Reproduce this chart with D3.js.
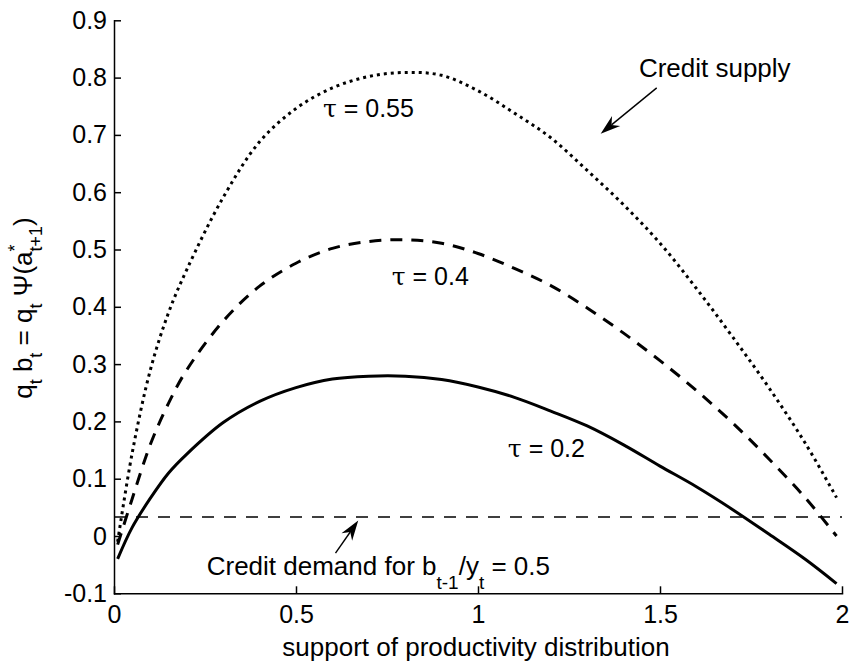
<!DOCTYPE html>
<html>
<head>
<meta charset="utf-8">
<script src="https://cdn.jsdelivr.net/npm/d3@7"></script>
<style>
  body { margin: 0; background: #fff; }
  text { font-family: "Liberation Sans", Arial, sans-serif; fill: #000; }
  .axis path, .axis line { stroke: #000; stroke-width: 1.5; }
  .axis text { font-size: 25px; font-family: "Liberation Sans", Arial, sans-serif; }
</style>
</head>
<body>
<div id="chart"></div>
<script>
// support grid (x) and credit supply for each tau
const xs      = [0.01, 0.05, 0.1, 0.15, 0.2, 0.3, 0.4, 0.5, 0.6, 0.7, 0.8, 0.9, 1.0, 1.1, 1.2, 1.3, 1.4, 1.5, 1.6, 1.7, 1.8, 1.9, 1.985];
const tau02   = [-0.04, 0.015, 0.066, 0.110, 0.143, 0.198, 0.235, 0.259, 0.274, 0.279, 0.279, 0.273, 0.260, 0.242, 0.218, 0.192, 0.159, 0.122, 0.086, 0.046, 0.003, -0.041, -0.083];
const tau04   = [-0.015, 0.065, 0.160, 0.232, 0.290, 0.375, 0.436, 0.476, 0.502, 0.514, 0.517, 0.511, 0.493, 0.467, 0.437, 0.398, 0.354, 0.306, 0.254, 0.197, 0.134, 0.066, 0.0];
const tau055  = [-0.01, 0.145, 0.290, 0.390, 0.465, 0.591, 0.688, 0.746, 0.782, 0.802, 0.809, 0.804, 0.777, 0.738, 0.695, 0.638, 0.578, 0.511, 0.432, 0.347, 0.258, 0.161, 0.067];
const demandLevel = 0.033;   // credit demand for b_{t-1}/y_t = 0.5
const demandX = [0, 2];

const xTicks = [0, 0.5, 1, 1.5, 2];
const yTicks = [-0.1, 0, 0.1, 0.2, 0.3, 0.4, 0.5, 0.6, 0.7, 0.8, 0.9];

var width = 850, height = 661;

const svg = d3.select("#chart").append("svg")
  .attr("width", width)
  .attr("height", height);

const x = d3.scaleLinear().domain([0, 2]).range([114, 842]);
const y = d3.scaleLinear().domain([-0.1, 0.9]).range([593.3, 20.3]);

const fmt = d => (Math.round(d * 10) / 10).toString();

svg.append("g")
  .attr("class", "axis")
  .attr("transform", "translate(0," + y(-0.1) + ")")
  .call(d3.axisBottom(x).tickValues(xTicks).tickFormat(fmt)
    .tickSizeInner(-7).tickSizeOuter(0).tickPadding(12));

svg.append("g")
  .attr("class", "axis")
  .attr("transform", "translate(" + x(0) + ",0)")
  .call(d3.axisLeft(y).tickValues(yTicks).tickFormat(fmt)
    .tickSizeInner(-7).tickSizeOuter(0).tickPadding(7));

svg.selectAll(".axis .domain").attr("stroke-linecap", "square");

// credit supply curves
const line = d3.line()
  .x(d => x(d[0]))
  .y(d => y(d[1]))
  .curve(d3.curveCatmullRom.alpha(0.5));

const series = [
  { vals: tau02,  dash: null },
  { vals: tau04,  dash: "12,9" },
  { vals: tau055, dash: "3,4" }
];

svg.append("g").selectAll("path")
  .data(series)
  .join("path")
    .attr("d", s => line(xs.map((v, i) => [v, s.vals[i]])))
    .attr("fill", "none")
    .attr("stroke", "#000")
    .attr("stroke-width", 3)
    .attr("stroke-dasharray", s => s.dash);

// credit demand
svg.append("path")
  .attr("d", d3.line().x(d => x(d)).y(() => y(demandLevel))(demandX))
  .attr("fill", "none")
  .attr("stroke", "#000")
  .attr("stroke-width", 1.5)
  .attr("stroke-dasharray", "12,10");

// arrows
function arrow(x0, y0, x1, y1) {
  const px0 = x(x0), py0 = y(y0), px1 = x(x1), py1 = y(y1);
  const a = Math.atan2(py1 - py0, px1 - px0);
  const len = 20, half = 6.5;
  const bx = px1 - len * Math.cos(a), by = py1 - len * Math.sin(a);
  const nx = px1 - 0.7 * len * Math.cos(a), ny = py1 - 0.7 * len * Math.sin(a);
  svg.append("line")
    .attr("x1", px0).attr("y1", py0).attr("x2", nx).attr("y2", ny)
    .attr("stroke", "#000").attr("stroke-width", 1.4);
  svg.append("path")
    .attr("d", "M" + px1 + "," + py1 +
      "L" + (bx - half * Math.sin(a)) + "," + (by + half * Math.cos(a)) +
      "L" + nx + "," + ny +
      "L" + (bx + half * Math.sin(a)) + "," + (by - half * Math.cos(a)) + "Z")
    .attr("fill", "#000");
}
arrow(1.491, 0.782, 1.337, 0.702);
arrow(0.6085, -0.030, 0.671, 0.027);

// annotations
svg.append("text")
  .attr("x", x(1.442)).attr("y", y(0.8005))
  .attr("font-size", 26)
  .text("Credit supply");

const dem = svg.append("text")
  .attr("x", x(0.2547)).attr("y", y(-0.0686))
  .attr("font-size", 26);
dem.append("tspan").text("Credit demand for b");
dem.append("tspan").attr("font-size", 19).attr("dy", 14).text("t-1");
dem.append("tspan").attr("dy", -14).text("/y");
dem.append("tspan").attr("font-size", 19).attr("dy", 14).text("t");
dem.append("tspan").attr("dy", -14).text(" = 0.5");

const tauLabels = [
  { x: 0.574, y: 0.731, t: "0.55" },
  { x: 0.763, y: 0.4375, t: "0.4" },
  { x: 1.082, y: 0.138, t: "0.2" }
];
tauLabels.forEach(l => {
  const t = svg.append("text")
    .attr("x", x(l.x)).attr("y", y(l.y))
    .attr("font-size", 25);
  t.append("tspan").attr("font-family", "DejaVu Serif, serif").text("τ");
  t.append("tspan").text(" = " + l.t);
});

// x label
svg.append("text")
  .attr("x", 476).attr("y", 656)
  .attr("text-anchor", "middle")
  .attr("font-size", 26)
  .text("support of productivity distribution");

// y label
const yl = svg.append("text")
  .attr("transform", "translate(32,308) rotate(-90)")
  .attr("text-anchor", "middle")
  .attr("font-size", 26);
yl.append("tspan").text("q");
yl.append("tspan").attr("font-size", 18).attr("dy", 10).text("t");
yl.append("tspan").attr("dy", -10).text(" b");
yl.append("tspan").attr("font-size", 18).attr("dy", 10).text("t");
yl.append("tspan").attr("dy", -10).text(" = q");
yl.append("tspan").attr("font-size", 18).attr("dy", 10).text("t");
yl.append("tspan").attr("dy", -10).text(" Ψ(a");
yl.append("tspan").attr("font-size", 18).attr("dy", -11).text("*");
yl.append("tspan").attr("font-size", 18).attr("dx", -7).attr("dy", 21).text("t+1");
yl.append("tspan").attr("dy", -10).text(")");
</script>
</body>
</html>
